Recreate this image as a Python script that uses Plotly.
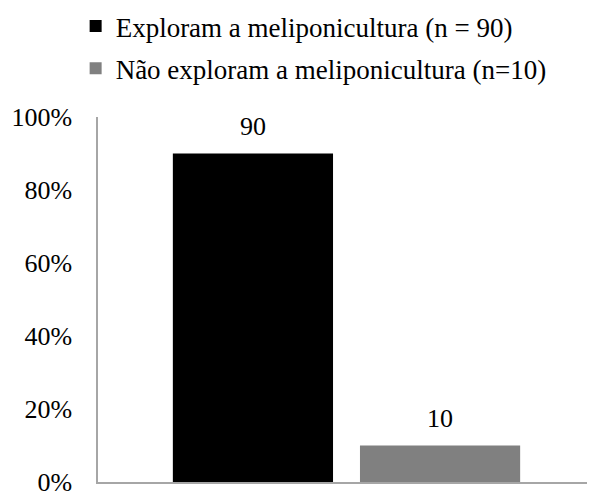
import plotly.graph_objects as go

series_names = ["Exploram a meliponicultura (n = 90)", "Não exploram a meliponicultura (n=10)"]
series_values = [0.90, 0.10]
series_labels = ["90", "10"]
series_colors = ["#000000", "#808080"]
category = [""]

FONT = "Liberation Serif"
GAP = 0.247

fig = go.Figure()
for i, (name, v, lab, col) in enumerate(zip(series_names, series_values, series_labels, series_colors)):
    fig.add_trace(go.Bar(
        x=category, y=[v], name=name,
        marker=dict(color=col, line=dict(width=0)),
        legendgroup=f"g{i}", offsetgroup=f"o{i}",
    ))
for i, (v, lab) in enumerate(zip(series_values, series_labels)):
    fig.add_trace(go.Scatter(
        x=category, y=[v], text=[lab], mode="markers+text", textposition="top center",
        textfont=dict(family=FONT, size=26, color="#000000"),
        marker=dict(size=18, opacity=0), showlegend=False, hoverinfo="skip",
        offsetgroup=f"o{i}", cliponaxis=False,
    ))

fig.update_layout(
    width=587, height=483,
    margin=dict(l=90, r=0, t=109, b=9, autoexpand=False),
    paper_bgcolor="white", plot_bgcolor="white",
    font=dict(family=FONT, size=26, color="#000000"),
    barmode="group", bargap=GAP, bargroupgap=0.144,
    scattermode="group", scattergap=GAP,
    showlegend=True,
    legend=dict(
        x=-0.045, y=1.315, xanchor="left", yanchor="top",
        traceorder="grouped", tracegroupgap=4,
        font=dict(family=FONT, size=27, color="#000000"),
        bgcolor="rgba(0,0,0,0)",
    ),
    xaxis=dict(showticklabels=False, showgrid=False, zeroline=False,
               showline=True, linecolor="#a6a6a6", linewidth=1.5, ticks="",
               automargin=False),
    yaxis=dict(range=[0, 1], tickformat=".0%", dtick=0.2, showgrid=False,
               zeroline=False, showline=True, linecolor="#a6a6a6", linewidth=1.5,
               ticks="", ticklabelstandoff=19, automargin=False,
               ticklabeloverflow="allow",
               tickfont=dict(family=FONT, size=26, color="#000000")),
)

fig.write_html("out.html")
